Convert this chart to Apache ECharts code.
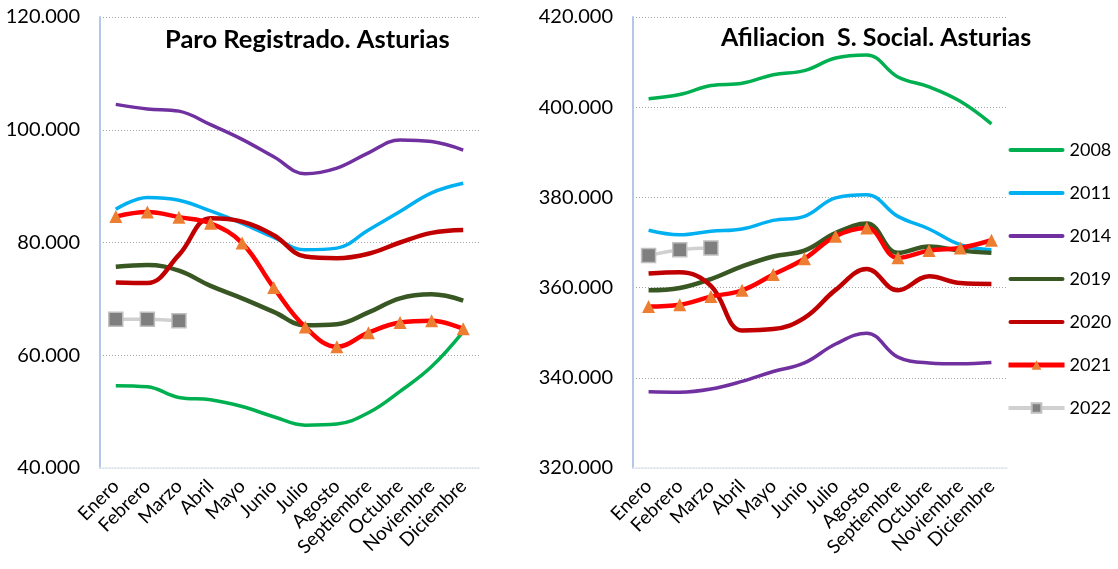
<!DOCTYPE html>
<html>
<head>
<meta charset="utf-8">
<script src="https://cdn.jsdelivr.net/npm/echarts@6/dist/echarts.min.js"></script>
<style>
  html, body { margin: 0; padding: 0; background: #fff; }
  #main { width: 1118px; height: 569px; }
</style>
</head>
<body>
<div id="main"></div>
<script>
const meses = ['Enero', 'Febrero', 'Marzo', 'Abril', 'Mayo', 'Junio', 'Julio', 'Agosto', 'Septiembre', 'Octubre', 'Noviembre', 'Diciembre'];
const years = ['2008', '2011', '2014', '2019', '2020', '2021', '2022'];

// Paro registrado
const paro2008 = [54600, 54400, 52500, 52100, 50900, 49100, 47600, 47800, 49800, 53600, 58000, 64200];
const paro2011 = [85900, 88000, 87500, 85600, 83400, 80900, 78700, 79000, 82200, 85500, 88800, 90500];
const paro2014 = [104500, 103700, 103300, 100900, 98300, 95200, 92200, 93200, 95900, 98200, 97900, 96400];
const paro2019 = [75700, 76000, 75000, 72300, 70100, 67700, 65300, 65500, 67600, 70100, 70800, 69700];
const paro2020 = [72900, 72800, 77800, 84300, 83700, 81300, 77500, 77200, 78000, 80000, 81700, 82200];
const paro2021 = [84600, 85400, 84500, 83400, 79900, 72000, 65000, 61500, 64000, 65800, 66100, 64700];
const paro2022 = [66400, 66400, 66100];

// Afiliacion S. Social
const afil2008 = [401900, 402800, 404800, 405300, 407200, 408100, 410900, 411600, 406700, 404500, 401300, 396300];
const afil2011 = [372700, 371700, 372500, 373000, 374900, 375800, 379900, 380600, 375800, 373000, 369500, 368400];
const afil2014 = [336900, 336800, 337500, 339200, 341400, 343300, 347500, 349900, 344600, 343300, 343100, 343400];
const afil2019 = [359400, 359900, 361900, 364700, 366900, 368200, 372100, 374200, 367700, 369100, 368200, 367700];
const afil2020 = [363100, 363400, 360400, 350500, 350800, 353300, 359500, 364100, 359400, 362500, 361000, 360800];
const afil2021 = [355800, 356200, 358000, 359400, 362900, 366400, 371400, 373200, 366600, 368200, 368800, 370500];
const afil2022 = [367100, 368400, 368800];

const FONT = 'Lato, "Open Sans", sans-serif';
// plain rounded bar used as legend icon for the series without markers
const LINE_ICON = 'path://M2,0 H53 A2,2 0 0 1 53,4 H2 A2,2 0 0 1 2,0 Z';

const styles = {
    '2008': { color: '#00B050', width: 3.5 },
    '2011': { color: '#00B0F0', width: 3.5 },
    '2014': { color: '#7030A0', width: 3.5 },
    '2019': { color: '#385723', width: 4.5 },
    '2020': { color: '#C00000', width: 4.5 },
    '2021': { color: '#FF0000', width: 4.5, symbol: 'triangle', symbolColor: '#ED7D31', symbolSize: 13 },
    '2022': { color: '#D0D0D0', width: 3.5, symbol: 'rect', symbolColor: '#7F7F7F', symbolSize: 14 }
};

function makeSeries(name, data, idx) {
    const s = styles[name];
    return {
        name: name,
        type: 'line',
        xAxisIndex: idx,
        yAxisIndex: idx,
        data: data,
        smooth: 0.4,
        symbol: s.symbol || 'none',
        symbolSize: s.symbolSize || 0,
        showSymbol: !!s.symbol,
        lineStyle: { color: s.color, width: s.width },
        itemStyle: { color: s.symbolColor || s.color, borderColor: s.symbol === 'rect' ? '#BFBFBF' : 'transparent', borderWidth: s.symbol === 'rect' ? 1.5 : 0 },
        emphasis: { disabled: true },
        z: name === '2021' ? 5 : 3
    };
}

function xAxisOf(idx) {
    return {
        type: 'category',
        gridIndex: idx,
        data: meses,
        boundaryGap: true,
        axisLine: { lineStyle: { color: '#E4E9F2', width: 1.5 } },
        axisTick: { show: false },
        axisLabel: { rotate: 45, interval: 0, fontSize: 19, color: '#000', fontFamily: FONT, margin: 15 }
    };
}

function yAxisOf(idx, min, max) {
    return {
        type: 'value',
        gridIndex: idx,
        min: min,
        max: max,
        interval: 20000,
        axisLine: { show: true, lineStyle: { color: '#B4C7E7', width: 2 } },
        axisTick: { show: false },
        splitLine: { lineStyle: { color: '#A6A6A6', type: [1, 2], width: 1 } },
        axisLabel: {
            fontSize: 20, color: '#000', fontFamily: FONT, margin: 20,
            formatter: function (v) { return v.toLocaleString('de-DE'); }
        }
    };
}

const paroData = [paro2008, paro2011, paro2014, paro2019, paro2020, paro2021, paro2022];
const afilData = [afil2008, afil2011, afil2014, afil2019, afil2020, afil2021, afil2022];

const series = [];
years.forEach((y, i) => series.push(makeSeries(y, paroData[i], 0)));
years.forEach((y, i) => series.push(makeSeries(y, afilData[i], 1)));

const legendData = years.map((y) => styles[y].symbol
    ? { name: y, lineStyle: { width: styles[y].width + 0.5 } }
    : { name: y, icon: LINE_ICON });

const options = {
    animation: false,
    backgroundColor: '#fff',
    title: [
        { text: 'Paro Registrado. Asturias', left: 160, top: 22, textStyle: { fontSize: 25.5, fontWeight: 'bold', color: '#000', fontFamily: FONT } },
        { text: 'Afiliacion  S. Social. Asturias', left: 716, top: 20, textStyle: { fontSize: 25, fontWeight: 'bold', color: '#000', fontFamily: FONT } }
    ],
    legend: {
        orient: 'vertical',
        left: 1006,
        top: 141,
        padding: 0,
        itemWidth: 56,
        itemHeight: 12,
        itemGap: 25,
        data: legendData,
        textStyle: { fontSize: 18, color: '#000', fontFamily: FONT },
        selectedMode: false
    },
    grid: [
        { left: 100, right: 639, top: 17, bottom: 101 },
        { left: 633, right: 111, top: 17, bottom: 101 }
    ],
    xAxis: [xAxisOf(0), xAxisOf(1)],
    yAxis: [yAxisOf(0, 40000, 120000), yAxisOf(1, 320000, 420000)],
    series: series
};

let myChart = echarts.init(document.getElementById('main'));
myChart.setOption(options);
</script>
</body>
</html>
